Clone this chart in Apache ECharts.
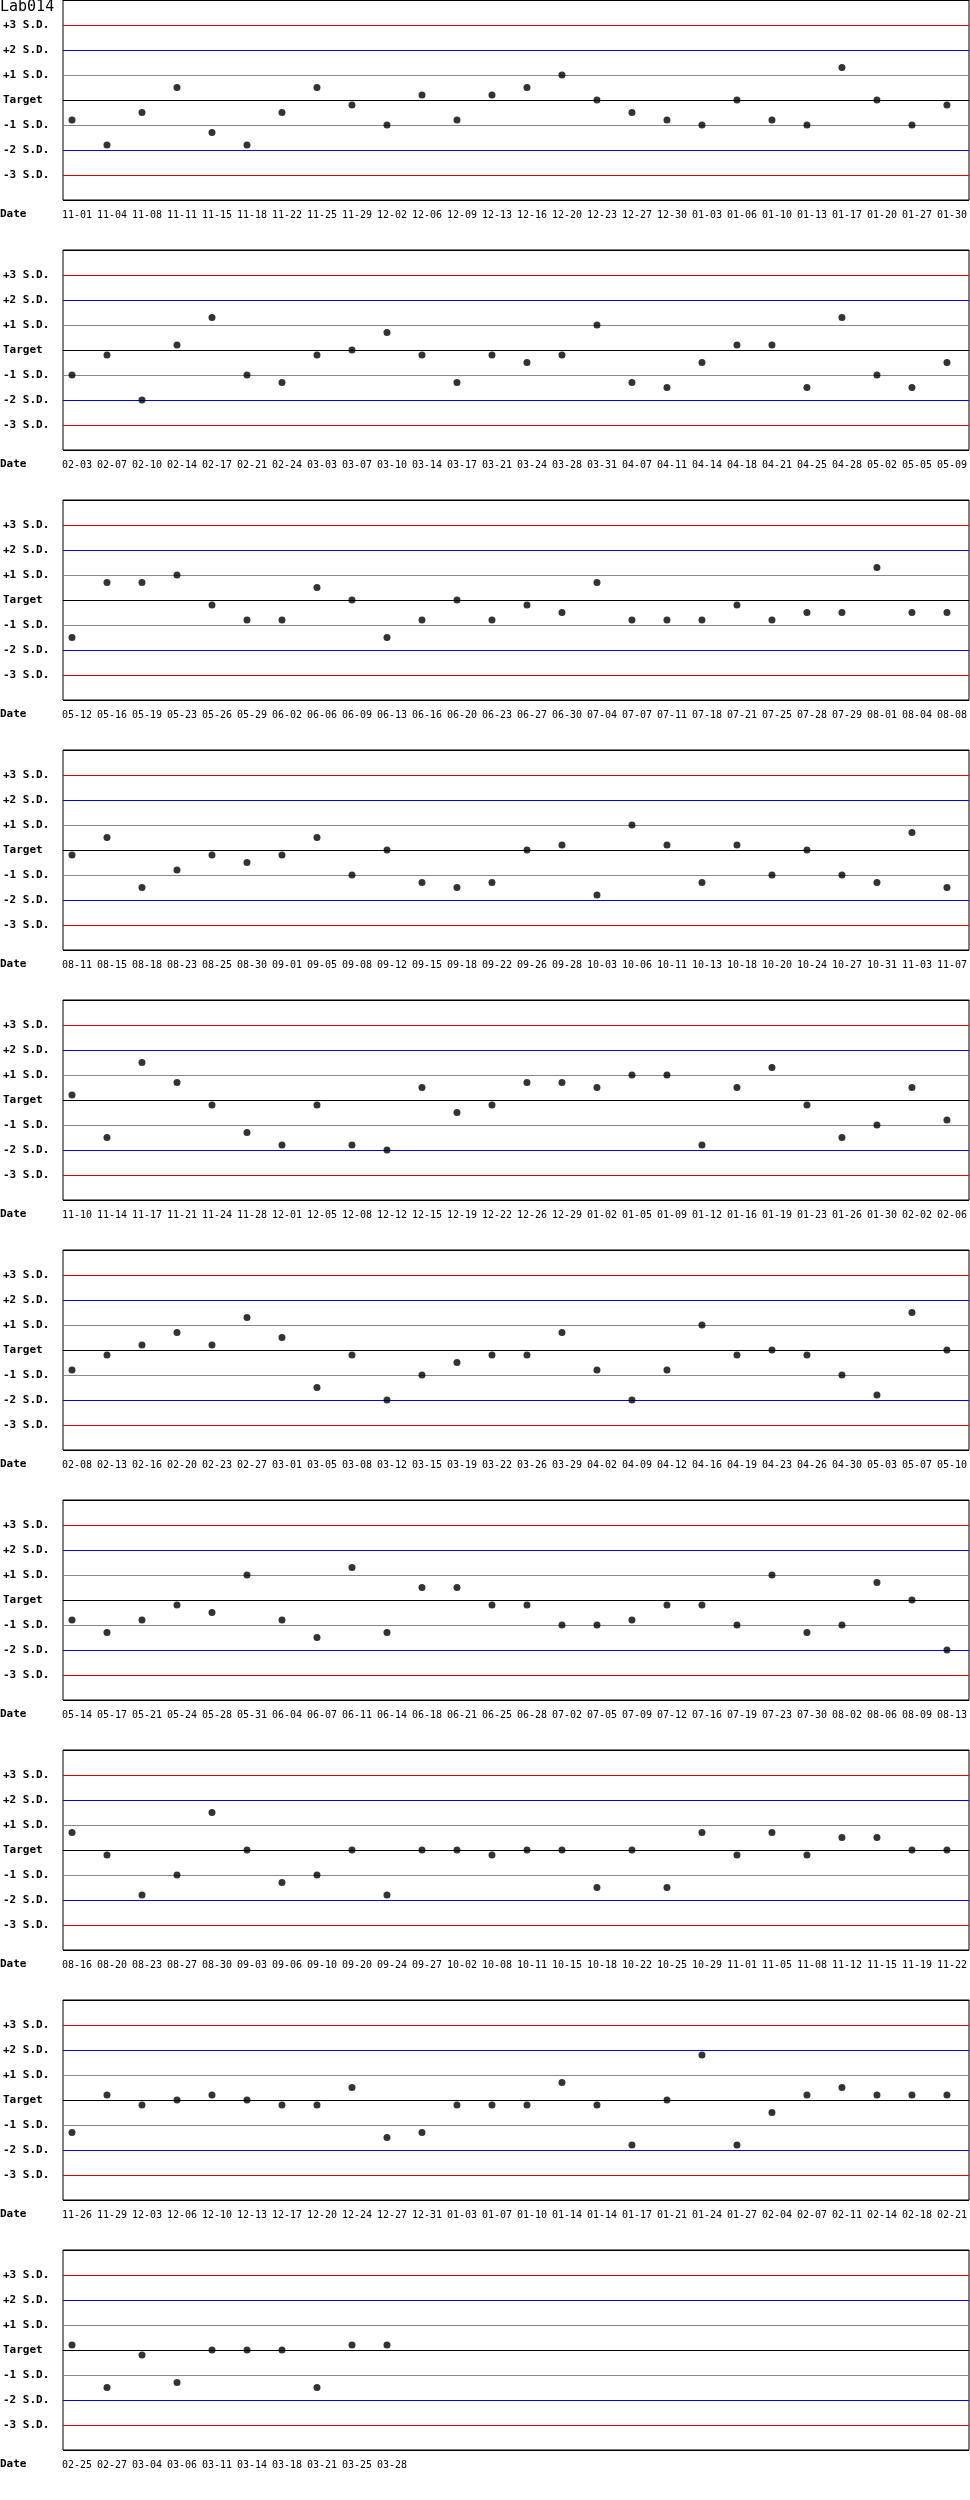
<!DOCTYPE html>
<html>
<head>
<meta charset="utf-8">
<title>Lab014</title>
<script src="https://cdn.jsdelivr.net/npm/echarts@6/dist/echarts.min.js"></script>
<style>
  html, body { margin: 0; padding: 0; background: #fff; }
  #chart { width: 970px; height: 2500px; }
</style>
</head>
<body>
<div id="chart"></div>
<script>
// values are in S.D. units from target
var dates1 = ['11-01','11-04','11-08','11-11','11-15','11-18','11-22','11-25','11-29','12-02','12-06','12-09','12-13','12-16','12-20','12-23','12-27','12-30','01-03','01-06','01-10','01-13','01-17','01-20','01-27','01-30'];
var sd1 = [-0.8,-1.8,-0.5,0.5,-1.3,-1.8,-0.5,0.5,-0.2,-1.0,0.2,-0.8,0.2,0.5,1.0,0,-0.5,-0.8,-1.0,0,-0.8,-1.0,1.3,0,-1.0,-0.2];

var dates2 = ['02-03','02-07','02-10','02-14','02-17','02-21','02-24','03-03','03-07','03-10','03-14','03-17','03-21','03-24','03-28','03-31','04-07','04-11','04-14','04-18','04-21','04-25','04-28','05-02','05-05','05-09'];
var sd2 = [-1.0,-0.2,-2.0,0.2,1.3,-1.0,-1.3,-0.2,0,0.7,-0.2,-1.3,-0.2,-0.5,-0.2,1.0,-1.3,-1.5,-0.5,0.2,0.2,-1.5,1.3,-1.0,-1.5,-0.5];

var dates3 = ['05-12','05-16','05-19','05-23','05-26','05-29','06-02','06-06','06-09','06-13','06-16','06-20','06-23','06-27','06-30','07-04','07-07','07-11','07-18','07-21','07-25','07-28','07-29','08-01','08-04','08-08'];
var sd3 = [-1.5,0.7,0.7,1.0,-0.2,-0.8,-0.8,0.5,0,-1.5,-0.8,0,-0.8,-0.2,-0.5,0.7,-0.8,-0.8,-0.8,-0.2,-0.8,-0.5,-0.5,1.3,-0.5,-0.5];

var dates4 = ['08-11','08-15','08-18','08-23','08-25','08-30','09-01','09-05','09-08','09-12','09-15','09-18','09-22','09-26','09-28','10-03','10-06','10-11','10-13','10-18','10-20','10-24','10-27','10-31','11-03','11-07'];
var sd4 = [-0.2,0.5,-1.5,-0.8,-0.2,-0.5,-0.2,0.5,-1.0,0,-1.3,-1.5,-1.3,0,0.2,-1.8,1.0,0.2,-1.3,0.2,-1.0,0,-1.0,-1.3,0.7,-1.5];

var dates5 = ['11-10','11-14','11-17','11-21','11-24','11-28','12-01','12-05','12-08','12-12','12-15','12-19','12-22','12-26','12-29','01-02','01-05','01-09','01-12','01-16','01-19','01-23','01-26','01-30','02-02','02-06'];
var sd5 = [0.2,-1.5,1.5,0.7,-0.2,-1.3,-1.8,-0.2,-1.8,-2.0,0.5,-0.5,-0.2,0.7,0.7,0.5,1.0,1.0,-1.8,0.5,1.3,-0.2,-1.5,-1.0,0.5,-0.8];

var dates6 = ['02-08','02-13','02-16','02-20','02-23','02-27','03-01','03-05','03-08','03-12','03-15','03-19','03-22','03-26','03-29','04-02','04-09','04-12','04-16','04-19','04-23','04-26','04-30','05-03','05-07','05-10'];
var sd6 = [-0.8,-0.2,0.2,0.7,0.2,1.3,0.5,-1.5,-0.2,-2.0,-1.0,-0.5,-0.2,-0.2,0.7,-0.8,-2.0,-0.8,1.0,-0.2,0,-0.2,-1.0,-1.8,1.5,0];

var dates7 = ['05-14','05-17','05-21','05-24','05-28','05-31','06-04','06-07','06-11','06-14','06-18','06-21','06-25','06-28','07-02','07-05','07-09','07-12','07-16','07-19','07-23','07-30','08-02','08-06','08-09','08-13'];
var sd7 = [-0.8,-1.3,-0.8,-0.2,-0.5,1.0,-0.8,-1.5,1.3,-1.3,0.5,0.5,-0.2,-0.2,-1.0,-1.0,-0.8,-0.2,-0.2,-1.0,1.0,-1.3,-1.0,0.7,0,-2.0];

var dates8 = ['08-16','08-20','08-23','08-27','08-30','09-03','09-06','09-10','09-20','09-24','09-27','10-02','10-08','10-11','10-15','10-18','10-22','10-25','10-29','11-01','11-05','11-08','11-12','11-15','11-19','11-22'];
var sd8 = [0.7,-0.2,-1.8,-1.0,1.5,0,-1.3,-1.0,0,-1.8,0,0,-0.2,0,0,-1.5,0,-1.5,0.7,-0.2,0.7,-0.2,0.5,0.5,0,0];

var dates9 = ['11-26','11-29','12-03','12-06','12-10','12-13','12-17','12-20','12-24','12-27','12-31','01-03','01-07','01-10','01-14','01-14','01-17','01-21','01-24','01-27','02-04','02-07','02-11','02-14','02-18','02-21'];
var sd9 = [-1.3,0.2,-0.2,0,0.2,0,-0.2,-0.2,0.5,-1.5,-1.3,-0.2,-0.2,-0.2,0.7,-0.2,-1.8,0,1.8,-1.8,-0.5,0.2,0.5,0.2,0.2,0.2];

var dates10 = ['02-25','02-27','03-04','03-06','03-11','03-14','03-18','03-21','03-25','03-28'];
var sd10 = [0.2,-1.5,-0.2,-1.3,0,0,0,-1.5,0.2,0.2];

// y tick labels from -4 to +4
var yLabels = ['', '-3 S.D.', '-2 S.D.', '-1 S.D.', 'Target', '+1 S.D.', '+2 S.D.', '+3 S.D.', ''];
var lineColors = ['#000000', '#e00000', '#0000ee', '#888888', '#000000', '#888888', '#0000ee', '#e00000', '#000000'];

var panels = [
    [dates1, sd1], [dates2, sd2], [dates3, sd3], [dates4, sd4], [dates5, sd5],
    [dates6, sd6], [dates7, sd7], [dates8, sd8], [dates9, sd9], [dates10, sd10]
];

var SLOTS = 26;
var PANEL_H = 250;
var MONO = 'DejaVu Sans Mono';

var grid = [], xAxis = [], yAxis = [], series = [];
var title = [{
    text: 'Lab014', left: 0, top: 0, padding: 0,
    textStyle: { fontFamily: MONO, fontSize: 15, fontWeight: 'normal', color: '#000' }
}];

// frame grids: border, limit lines, y labels
panels.forEach(function (p, k) {
    grid.push({
        left: 60, right: 1, top: k * PANEL_H, height: 200,
        show: true, borderColor: '#000', borderWidth: 1, backgroundColor: 'transparent'
    });
    xAxis.push({ type: 'value', gridIndex: k, min: 0, max: 1, show: false });
    yAxis.push({
        type: 'value', gridIndex: k, min: -4, max: 4, interval: 1,
        axisLine: { show: false },
        axisTick: { show: false },
        splitLine: { show: true, lineStyle: { color: lineColors, width: 1 } },
        axisLabel: {
            align: 'left', margin: 60,
            fontFamily: MONO, fontSize: 11, fontWeight: 'bold', color: '#000',
            formatter: function (v) { return yLabels[v + 4]; }
        }
    });
    title.push({
        text: 'Date', left: 0, top: k * PANEL_H + 209, padding: 0,
        textStyle: { fontFamily: MONO, fontSize: 11, fontWeight: 'bold', color: '#000' }
    });
});

// data grids: points and date labels
panels.forEach(function (p, k) {
    var cats = p[0].slice();
    while (cats.length < SLOTS) cats.push('');
    var gi = panels.length + k;
    grid.push({ left: 72, right: 23, top: k * PANEL_H, height: 200 });
    xAxis.push({
        type: 'category', gridIndex: gi, data: cats, boundaryGap: false,
        axisLine: { show: false },
        axisTick: { show: false },
        splitLine: { show: false },
        axisLabel: {
            interval: 0, margin: 10, padding: [0, 0, 0, 10],
            fontFamily: MONO, fontSize: 10, color: '#000'
        }
    });
    yAxis.push({ type: 'value', gridIndex: gi, min: -4, max: 4, show: false, splitLine: { show: false } });
    series.push({
        type: 'scatter',
        xAxisIndex: gi,
        yAxisIndex: gi,
        data: p[1],
        symbol: 'circle',
        symbolSize: 7,
        itemStyle: { color: '#000' },
        silent: true
    });
});

var chart = echarts.init(document.getElementById('chart'), null, { renderer: 'canvas' });
chart.setOption({
    animation: false,
    backgroundColor: '#fff',
    title: title,
    grid: grid,
    xAxis: xAxis,
    yAxis: yAxis,
    series: series
});
</script>
</body>
</html>
